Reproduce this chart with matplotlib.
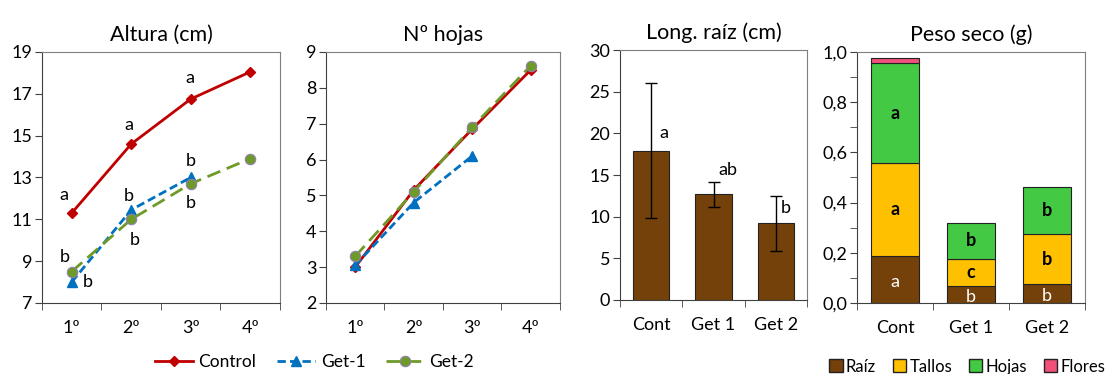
import matplotlib.pyplot as plt
import numpy as np
from matplotlib.ticker import FixedLocator, FuncFormatter, MultipleLocator
from matplotlib.patches import Patch

plt.rcParams['font.family'] = ['Lato', 'DejaVu Sans']

# data
weeks = ['1º', '2º', '3º', '4º']
altura_control = [11.3, 14.6, 16.75, 18.05]
altura_get1 = [8.0, 11.45, 13.0]
altura_get2 = [8.5, 11.0, 12.7, 13.9]
altura_let_control = ['a', 'a', 'a']
altura_let_get1 = ['b', 'b', 'b']
altura_let_get2 = ['b', 'b', 'b']

hojas_control = [3.0, 5.15, 6.85, 8.5]
hojas_get1 = [3.05, 4.8, 6.1]
hojas_get2 = [3.3, 5.1, 6.9, 8.62]

groups = ['Cont', 'Get 1', 'Get 2']
raiz_len = [17.9, 12.7, 9.2]
raiz_err = [8.1, 1.5, 3.3]
raiz_let = ['a', 'ab', 'b']

peso_raiz = [0.188, 0.068, 0.077]
peso_tallos = [0.369, 0.109, 0.196]
peso_hojas = [0.399, 0.140, 0.188]
peso_flores = [0.019, 0.0, 0.0]
let_raiz = ['a', 'b', 'b']
let_tallos = ['a', 'c', 'b']
let_hojas = ['a', 'b', 'b']

RED = '#C00000'
BLUE = '#0070C0'
GREEN = '#6E9A28'
BROWN = '#74410B'
YELLOW = '#FFC000'
LGREEN = '#43C943'
PINK = '#F0507A'

TICK_FS = 13
TITLE_FS = 15.5
LET_FS = 13


def style_axes(ax, nx):
    for s in ['top', 'right']:
        ax.spines[s].set_color('#7f7f7f')
    for s in ['left', 'bottom']:
        ax.spines[s].set_color('#404040')
    ax.set_xlim(-0.5, nx - 0.5)
    ax.set_xticks(range(nx))
    ax.tick_params(axis='x', which='major', length=0, pad=12, labelsize=TICK_FS)
    ax.xaxis.set_minor_locator(FixedLocator(np.arange(-0.5, nx, 1.0)))
    ax.tick_params(axis='x', which='minor', length=5, direction='out', color='#404040')
    ax.tick_params(axis='y', which='both', length=5, direction='out', labelsize=TICK_FS,
                   color='#404040', pad=2)


def main():
    fig = plt.figure(figsize=(11.08, 3.74), dpi=100)

    # Altura
    ax1 = fig.add_axes([0.0379, 0.190, 0.2148, 0.671])
    x = np.arange(4)
    l1, = ax1.plot(x, altura_control, color=RED, lw=2, marker='D', ms=5, label='Control')
    l2, = ax1.plot(x[:3], altura_get1, color=BLUE, lw=2, ls=(0, (3, 1.5)), marker='^', ms=7,
                   label='Get-1')
    l3, = ax1.plot(x, altura_get2, color=GREEN, lw=2, ls=(0, (5, 2.5)), marker='o', ms=7.5,
                   mfc=GREEN, mec='#8f7fb0', mew=0.8, label='Get-2')
    off_c = [(-8, 18), (-2, 19), (-1, 21)]
    off_1 = [(16, 0), (-2, 14), (0, 16)]
    off_2 = [(-7, 15), (4, -21), (0, -19)]
    for i in range(3):
        ax1.annotate(altura_let_control[i], (x[i], altura_control[i]), xytext=off_c[i],
                     textcoords='offset pixels', ha='center', va='center', fontsize=LET_FS)
        ax1.annotate(altura_let_get1[i], (x[i], altura_get1[i]), xytext=off_1[i],
                     textcoords='offset pixels', ha='center', va='center', fontsize=LET_FS)
        ax1.annotate(altura_let_get2[i], (x[i], altura_get2[i]), xytext=off_2[i],
                     textcoords='offset pixels', ha='center', va='center', fontsize=LET_FS)
    ax1.set_ylim(7, 19)
    ax1.set_yticks(np.arange(7, 20, 2))
    ax1.set_xticklabels(weeks)
    style_axes(ax1, 4)
    ax1.set_title('Altura (cm)', fontsize=TITLE_FS, pad=8)

    # Nº hojas
    ax2 = fig.add_axes([0.2942, 0.190, 0.2112, 0.671])
    ax2.plot(x, hojas_control, color=RED, lw=2, marker='D', ms=5)
    ax2.plot(x[:3], hojas_get1, color=BLUE, lw=2, ls=(0, (3, 1.5)), marker='^', ms=7)
    ax2.plot(x, hojas_get2, color=GREEN, lw=2, ls=(0, (5, 2.5)), marker='o', ms=7.5,
             mfc=GREEN, mec='#8f7fb0', mew=0.8)
    ax2.set_ylim(2, 9)
    ax2.set_yticks(np.arange(2, 10, 1))
    ax2.set_xticklabels(weeks)
    style_axes(ax2, 4)
    ax2.set_title('Nº hojas', fontsize=TITLE_FS, pad=8)

    # Long. raíz
    ax3 = fig.add_axes([0.5596, 0.198, 0.1688, 0.668])
    xb = np.arange(3)
    ax3.bar(xb, raiz_len, width=0.58, color=BROWN, edgecolor='#222222', lw=0.8,
            yerr=raiz_err, error_kw=dict(ecolor='black', elinewidth=1, capsize=4, capthick=1))
    off_r = [(13, 18), (14, 24), (10, 15)]
    for i in range(3):
        ax3.annotate(raiz_let[i], (xb[i], raiz_len[i]), xytext=off_r[i],
                     textcoords='offset pixels', ha='center', va='center', fontsize=LET_FS)
    ax3.set_ylim(0, 30)
    ax3.set_yticks(np.arange(0, 31, 5))
    ax3.set_xticklabels(groups)
    style_axes(ax3, 3)
    ax3.set_title('Long. raíz (cm)', fontsize=TITLE_FS, pad=8)

    # Peso seco
    ax4 = fig.add_axes([0.7735, 0.190, 0.2058, 0.671])
    w = 0.64
    b1 = np.array(peso_raiz)
    b2 = b1 + np.array(peso_tallos)
    b3 = b2 + np.array(peso_hojas)
    ax4.bar(xb, peso_raiz, width=w, color=BROWN, edgecolor='#222222', lw=0.8)
    ax4.bar(xb, peso_tallos, width=w, bottom=b1, color=YELLOW, edgecolor='#222222', lw=0.8)
    ax4.bar(xb, peso_hojas, width=w, bottom=b2, color=LGREEN, edgecolor='#222222', lw=0.8)
    fl = [v if v > 0 else np.nan for v in peso_flores]
    ax4.bar(xb, fl, width=w, bottom=b3, color=PINK, edgecolor='#222222', lw=0.8)
    for i in range(3):
        ax4.text(xb[i], peso_raiz[i] / 2 - 0.01, let_raiz[i], ha='center', va='center',
                 color='white', fontsize=LET_FS)
        ax4.text(xb[i], b1[i] + peso_tallos[i] / 2, let_tallos[i], ha='center', va='center',
                 color='black', fontsize=LET_FS, fontweight='bold')
        ax4.text(xb[i], b2[i] + peso_hojas[i] / 2, let_hojas[i], ha='center', va='center',
                 color='black', fontsize=LET_FS, fontweight='bold')
    ax4.set_ylim(0, 1.0)
    ax4.set_yticks(np.arange(0, 1.01, 0.2))
    ax4.yaxis.set_minor_locator(MultipleLocator(0.1))
    ax4.yaxis.set_major_formatter(FuncFormatter(lambda v, p: f'{v:.1f}'.replace('.', ',')))
    ax4.set_xticklabels(groups)
    style_axes(ax4, 3)
    ax4.set_title('Peso seco (g)', fontsize=TITLE_FS, pad=8)

    # Legends
    fig.legend(handles=[l1, l2, l3], loc='center', bbox_to_anchor=(0.284, 0.032), ncol=3,
               frameon=False, fontsize=12.5, handlelength=2.2, columnspacing=1.2,
               handletextpad=0.3)
    patches = [Patch(facecolor=c, edgecolor='#222222', label=l) for c, l in
               zip([BROWN, YELLOW, LGREEN, PINK], ['Raíz', 'Tallos', 'Hojas', 'Flores'])]
    fig.legend(handles=patches, loc='center', bbox_to_anchor=(0.873, 0.02), ncol=4,
               frameon=False, fontsize=12, handlelength=0.8, handleheight=0.8,
               columnspacing=1.0, handletextpad=0.2)

    plt.savefig('out.png', dpi=100)


if __name__ == "__main__":
    main()
